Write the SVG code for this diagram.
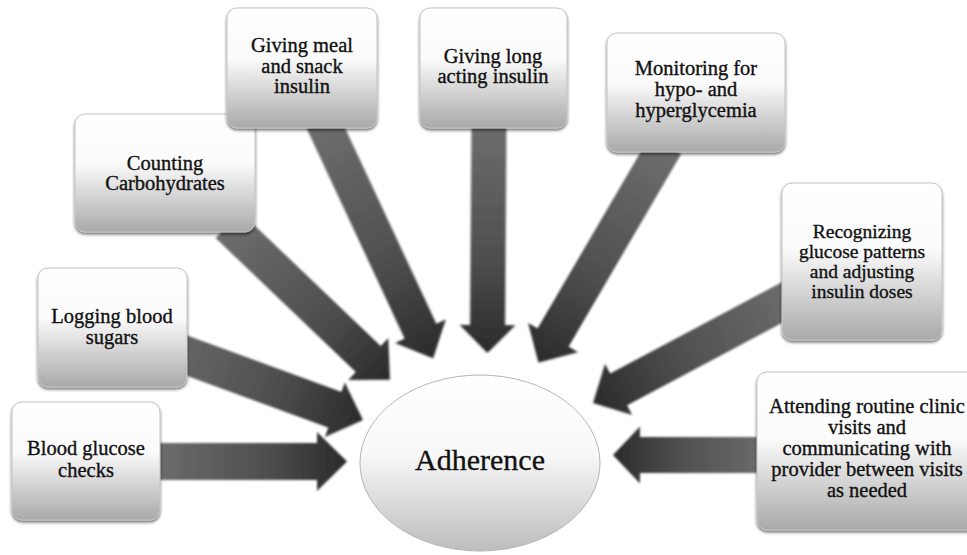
<svg xmlns="http://www.w3.org/2000/svg" width="967" height="555" viewBox="0 0 967 555">
<defs>
  <linearGradient id="boxGrad" x1="0" y1="0" x2="0" y2="1">
    <stop offset="0" stop-color="#ffffff"/>
    <stop offset="0.42" stop-color="#fbfbfb"/>
    <stop offset="1" stop-color="#a9a9a9"/>
  </linearGradient>
  <linearGradient id="ellGrad" x1="0" y1="0" x2="0" y2="1">
    <stop offset="0" stop-color="#ffffff"/>
    <stop offset="0.45" stop-color="#f8f8f8"/>
    <stop offset="1" stop-color="#bdbdbd"/>
  </linearGradient>
  <linearGradient id="arrGrad" x1="0" y1="0" x2="1" y2="0">
    <stop offset="0" stop-color="#6e6e6e"/>
    <stop offset="0.6" stop-color="#4e4e4e"/>
    <stop offset="1" stop-color="#2a2a2a"/>
  </linearGradient>
  <filter id="shadow" x="-10%" y="-10%" width="120%" height="125%">
    <feDropShadow dx="0" dy="2" stdDeviation="1.5" flood-color="#000" flood-opacity="0.55"/>
  </filter>
  <filter id="soft" x="-5%" y="-20%" width="110%" height="140%">
    <feGaussianBlur stdDeviation="0.9"/>
  </filter>
</defs>
<style>
  .box { fill: url(#boxGrad); stroke: #c4c4c4; stroke-width: 1; filter: url(#shadow); }
  .lbl { font-family: "Liberation Serif", "Times New Roman", serif; font-size: 20.5px; fill: #111; stroke: #111; stroke-width: 0.35; text-anchor: middle; }
  .tight { font-size: 19.5px; }
  .arrow { fill: url(#arrGrad); filter: url(#soft); }
  .main { font-family: "Liberation Serif", "Times New Roman", serif; font-size: 30px; fill: #111; stroke: #111; stroke-width: 0.3; text-anchor: middle; }
</style>
<rect width="967" height="555" fill="#ffffff"/>

<g id="connectors">
  <path class="arrow" transform="translate(150,461.5)" d="M0,-18.5 L167,-18.5 L167,-29.5 L197,0 L167,29.5 L167,18.5 L0,18.5 Z"/>
  <path class="arrow" transform="translate(147,341) rotate(20.1)" d="M0,-19 L200,-19 L200,-29 L230,0 L200,29 L200,19 L0,19 Z"/>
  <path class="arrow" transform="translate(228,225) rotate(43.7)" d="M0,-18 L194,-18 L194,-29 L224,0 L194,29 L194,18 L0,18 Z"/>
  <path class="arrow" transform="translate(322,120) rotate(65)" d="M0,-17.5 L233,-17.5 L233,-28 L263,0 L233,28 L233,17.5 L0,17.5 Z"/>
  <path class="arrow" transform="translate(489,120) rotate(90.4)" d="M0,-17.5 L205,-17.5 L205,-28 L233,0 L205,28 L205,17.5 L0,17.5 Z"/>
  <path class="arrow" transform="translate(665.6,145) rotate(120.3)" d="M0,-18 L223,-18 L223,-29 L252,0 L223,29 L223,18 L0,18 Z"/>
  <path class="arrow" transform="translate(800.5,292.7) rotate(152)" d="M0,-18 L206,-18 L206,-29 L235,0 L206,29 L206,18 L0,18 Z"/>
  <path class="arrow" transform="translate(770,455) rotate(180)" d="M0,-18 L130,-18 L130,-28.5 L157,0 L130,28.5 L130,18 L0,18 Z"/>
</g>

<g id="n1">
  <rect class="box" x="12" y="402" width="148" height="118" rx="10"/>
  <text class="lbl" x="86" y="455">Blood glucose</text>
  <text class="lbl" x="86" y="477">checks</text>
</g>
<g id="n2">
  <rect class="box" x="38" y="268" width="149" height="119" rx="10"/>
  <text class="lbl" x="112" y="323">Logging blood</text>
  <text class="lbl" x="112" y="344">sugars</text>
</g>
<g id="n3">
  <rect class="box" x="75" y="114" width="180" height="118" rx="10"/>
  <text class="lbl" x="165" y="170">Counting</text>
  <text class="lbl" x="165" y="190">Carbohydrates</text>
</g>
<g id="n4">
  <rect class="box" x="227" y="8" width="150" height="120" rx="10"/>
  <text class="lbl" x="302" y="52">Giving meal</text>
  <text class="lbl" x="302" y="72.5">and snack</text>
  <text class="lbl" x="302" y="93">insulin</text>
</g>
<g id="n5">
  <rect class="box" x="420" y="8" width="147" height="120" rx="10"/>
  <text class="lbl" x="493" y="63">Giving long</text>
  <text class="lbl" x="493" y="83">acting insulin</text>
</g>
<g id="n6">
  <rect class="box" x="607" y="33" width="178" height="119" rx="10"/>
  <text class="lbl" x="696" y="75">Monitoring for</text>
  <text class="lbl" x="696" y="96">hypo- and</text>
  <text class="lbl" x="696" y="117">hyperglycemia</text>
</g>
<g id="n7">
  <rect class="box" x="782" y="183" width="160" height="157" rx="10"/>
  <text class="lbl tight" x="862" y="238">Recognizing</text>
  <text class="lbl tight" x="862" y="258">glucose patterns</text>
  <text class="lbl tight" x="862" y="278">and adjusting</text>
  <text class="lbl tight" x="862" y="298">insulin doses</text>
</g>
<g id="n8">
  <rect class="box" x="757" y="372" width="220" height="158" rx="10"/>
  <text class="lbl" x="867" y="413">Attending routine clinic</text>
  <text class="lbl" x="867" y="434">visits and</text>
  <text class="lbl" x="867" y="455">communicating with</text>
  <text class="lbl" x="867" y="476">provider between visits</text>
  <text class="lbl" x="867" y="497">as needed</text>
</g>
<g id="center">
  <ellipse cx="480" cy="463" rx="120" ry="88" fill="url(#ellGrad)" stroke="#b5b5b5" stroke-width="1"/>
  <text class="main" x="480" y="470">Adherence</text>
</g>
</svg>
